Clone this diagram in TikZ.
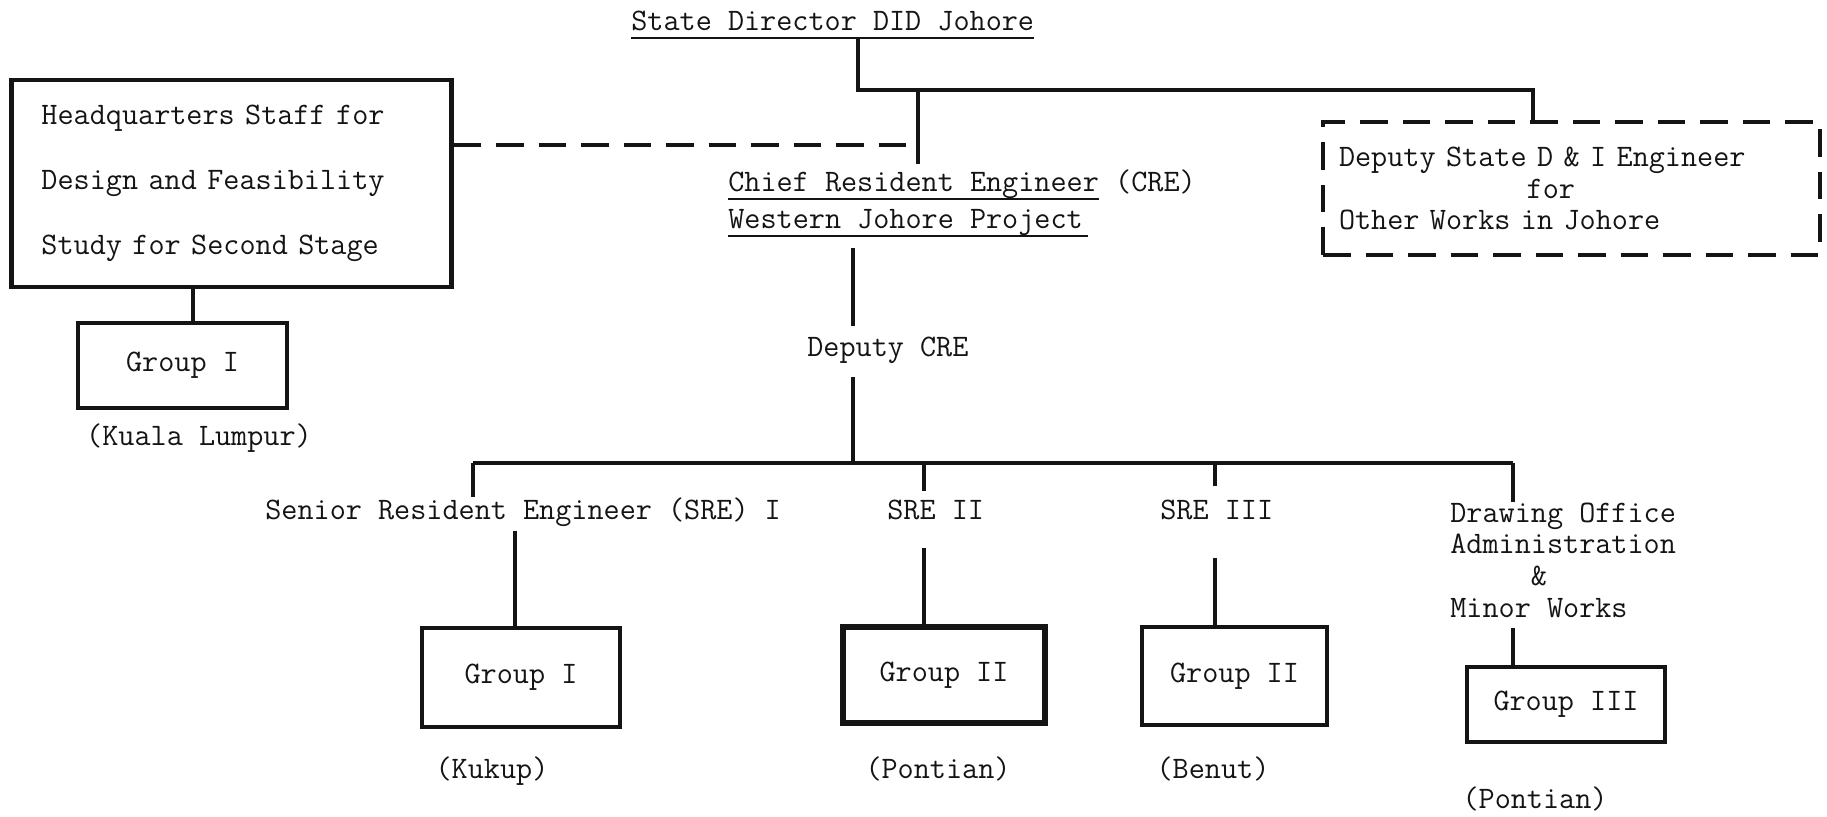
\documentclass[tikz,border=0pt]{standalone}
\usetikzlibrary{positioning}
\definecolor{orgInk}{HTML}{141414}
\tikzset{
  every picture/.style={font=\ttfamily\fontsize{17.8pt}{18pt}\selectfont, text=orgInk},
  org text/.style={inner sep=0pt, text depth=1.3mm},
  org box/.style={draw=orgInk, line width=2.3pt, fill=white, inner sep=0pt},
  org heavy/.style={line width=3.2pt},
  org link/.style={draw=orgInk, line width=2.8pt, line cap=butt},
  org dashed/.style={draw=orgInk, line width=2.5pt, dash pattern=on 5.5mm off 3mm},
  org rule/.style={draw=orgInk, line width=1.2pt}
}
\begin{document}
\begin{tikzpicture}[x=0.2mm,y=-0.2mm]
  \useasboundingbox (0,0) rectangle (1827,817);
  % top level
  \node[org text, anchor=base west] (director) at (631,31) {State Director DID Johore};
  \node[org box, text width=76mm, inner xsep=6mm, minimum height=41.4mm, align=left,
    font=\ttfamily\fontsize{17.8pt}{37pt}\selectfont] (hqstaff) at (231.5,183.5)
    {Headquarters Staff for\\Design and Feasibility\\Study for Second Stage};
  \node[org box, minimum width=41.8mm, minimum height=17mm] (hqgroup) at (182.5,365.5) {Group I};
  \node[org text, anchor=base] (hqplace) at (199,445) {(Kuala Lumpur)};
  \node[org box, org dashed, text width=93mm, inner xsep=3.2mm, minimum height=26.6mm,
    align=left] (deputystate) at (1571.5,188.5)
    {Deputy State D \& I Engineer\\\hphantom{Deputy State}for\\Other Works in Johore};
  \node[org text, anchor=base west] (chief) at (728,192) {Chief Resident Engineer};
  \node[org text, anchor=base west] (chiefabbr) at ([xshift=3.13mm]chief.base east) {(CRE)};
  \node[org text, anchor=base west] (project) at (728,229) {Western Johore Project};
  \node[org text, anchor=base west] (deputy) at (807,357) {Deputy CRE};

  % resident engineers
  \node[org text, anchor=base west] (sre1) at (265,519) {Senior Resident Engineer (SRE) I};
  \node[org text, anchor=base west] (sre2) at (887,519) {SRE II};
  \node[org text, anchor=base west] (sre3) at (1160,519) {SRE III};
  \node[inner sep=0pt, anchor=west, align=left] (drawing) at (1450,560)
    {Drawing Office\\Administration\\\hphantom{Drawi}\&\\Minor Works};

  % groups
  \node[org box, minimum width=39.6mm, minimum height=19.8mm] (grp1) at (521,677.5) {Group I};
  \node[org box, org heavy, minimum width=40.4mm, minimum height=19.2mm] (grp2) at (944,675) {Group II};
  \node[org box, minimum width=37mm, minimum height=19.6mm] (grp3) at (1234.5,676) {Group II};
  \node[org box, minimum width=39.6mm, minimum height=15mm] (grp4) at (1566,704.5) {Group III};
  \node[org text, anchor=base] (place1) at (492,778) {(Kukup)};
  \node[org text, anchor=base] (place2) at (938,778) {(Pontian)};
  \node[org text, anchor=base] (place3) at (1213,778) {(Benut)};
  \node[org text, anchor=base] (place4) at (1535,808) {(Pontian)};

  \coordinate (topj) at (858,90);
  \coordinate (chiefj) at (918,90);
  \coordinate (rightj) at (1533,90);
  \coordinate (hqj) at (918,145);
  \coordinate (midj) at (853,463);
  \coordinate (bar1) at (473,463);
  \coordinate (bar2) at (924,463);
  \coordinate (bar3) at (1215,463);
  \coordinate (bar4) at (1513,463);

  \draw[org rule] (director.south west) -- (director.south east);
  \draw[org rule] (chief.south west) -- (chief.south east);
  \draw[org rule] (project.south west) -- ([xshift=1mm]project.south east);

  \draw[org link] (director.south -| topj) -- (topj) -- (rightj) -- (rightj |- deputystate.north);
  \draw[org link, shorten >=1.7mm] (chiefj) -- (chiefj |- chief.north);
  \draw[org dashed] (hqstaff.east |- hqj) -- (hqj);
  \draw[org link] ([xshift=2.1mm]hqgroup.north) -- ([xshift=2.1mm]hqgroup.north |- hqstaff.south);
  \draw[org link, shorten <=2.4mm, shorten >=2.3mm] (project.south -| midj) -- (deputy.north -| midj);
  \draw[org link, shorten <=2.7mm] (deputy.south -| midj) -- (midj);

  \draw[org link] (bar1) -- (bar4);
  \draw[org link] (bar1) -- (bar1 |- sre1.north);
  \draw[org link, shorten >=1.6mm] (bar2) -- (bar2 |- sre2.north);
  \draw[org link, shorten >=2.7mm] (bar3) -- (bar3 |- sre3.north);
  \draw[org link] (bar4) -- (bar4 |- drawing.north);

  \draw[org link, shorten <=1mm] ([xshift=-1.2mm]grp1.north |- sre1.south) -- ([xshift=-1.2mm]grp1.north);
  \draw[org link, shorten <=4.5mm] (sre2.south -| bar2) -- (grp2.north -| bar2);
  \draw[org link, shorten <=6.5mm] (sre3.south -| bar3) -- (grp3.north -| bar3);
  \draw[org link, shorten <=2mm] (drawing.south -| bar4) -- (grp4.north -| bar4);
\end{tikzpicture}
\end{document}
